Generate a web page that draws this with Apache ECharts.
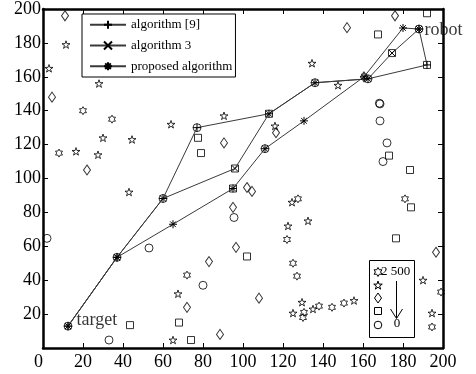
<!DOCTYPE html>
<html><head><meta charset="utf-8">
<script src="https://cdn.jsdelivr.net/npm/echarts@6/dist/echarts.min.js"></script>
<style>html,body{margin:0;padding:0;background:#fff}#c{width:476px;height:374px}</style>
</head><body><div id="c"></div>
<script>
// ---- data ----
const axisMin = 0, axisMax = 200, axisStep = 20;
const seriesNames = ['algorithm [9]', 'algorithm 3', 'proposed algorithm'];
const endLabels = ['target', 'robot'];

const hexagrams = [[20,140],[34.5,135],[8,115],[72,43],[127.5,88],[122,64],[125,50],[127,42.4],[130.5,21],[130,18],[138,24.7],[144.5,24],[150.5,26.5],[181,88],[199,33],[194.5,12.4]];
const pentagrams = [[11.5,179],[3,165],[28,156],[30,124],[44.5,123],[64,132],[16.5,116],[27.5,114],[90.5,137],[134.5,168],[116,131],[147.5,155],[43,92],[67.5,32],[65,4.7],[124.5,86],[122.5,72],[132.5,75],[129.5,27],[125,20.6],[135,23],[155.5,28],[190,40],[194.5,20.6]];
const diamonds = [[11,196],[4.5,148],[22,105],[90.5,121],[116.5,127],[152,189],[176,196],[102,94.7],[104.5,92.4],[95,83],[96.5,59.4],[83,51],[72,24],[88.5,8],[108,29.4],[196.5,56.5],[160.5,160]];
const squares = [[77.5,124],[79,115],[167.5,185],[192,197.5],[173,113.5],[183.5,105],[43.5,13.5],[68,15],[74,4.7],[102,54],[176.5,64.7],[184,83],[96,105.9],[113,138.2],[95,94.1],[174.5,174],[192,167]];
const circles = [[2,64.7],[53,59],[33,4.7],[80,37],[95.5,77],[168.5,144],[168.2,144.4],[168.5,134],[172,121],[170,110],[12.5,12.9],[37,53.5],[60,88.2],[77,130],[111,117.6],[136,156.5],[162.5,158.8],[188,188.2]];

const algorithm9 = [[12.5,12.9],[37,53.5],[60,88.2],[77,130],[113,138.2],[136,156.5],[162.5,158.8],[192,167],[188,188.2]];
const algorithm3 = [[12.5,12.9],[37,53.5],[60,88.2],[96,105.9],[113,138.2],[136,156.5],[162.5,158.8],[174.5,174],[188,188.2]];
const proposed  = [[12.5,12.9],[37,53.5],[65,73],[95,94.1],[111,117.6],[130.5,134],[160.5,160],[180,188.8],[188,188.2]];

// ---- symbols ----
const PENTA = 'path://M50 0L61.2 34.5L97.6 34.5L68.2 55.9L79.4 90.5L50 69.1L20.6 90.5L31.8 55.9L2.4 34.5L38.8 34.5Z';
const HEXA = 'path://M50 0L64.4 25L93.3 25L78.9 50L93.3 75L64.4 75L50 100L35.6 75L6.7 75L21.1 50L6.7 25L35.6 25Z';
const PLUS = 'path://M50 0L50 100M0 50L100 50';
const CROSS = 'path://M0 0L100 100M100 0L0 100';
const AST = 'path://M50 0L50 100M0 50L100 50M15 15L85 85M85 15L15 85';
const FONT = '"Liberation Serif", "Times New Roman", serif';

function obstacle(name, data, symbol, size) {
  return { name, type: 'scatter', data, symbol, symbolSize: size, symbolKeepAspect: true,
    itemStyle: { color: 'rgba(0,0,0,0)', borderColor: '#000', borderWidth: 1 }, z: 2, silent: true };
}
function path(name, data, symbol, size) {
  return { name, type: 'line', data, symbol, symbolSize: size, showSymbol: true,
    lineStyle: { color: '#3a3a3a', width: 1 },
    itemStyle: { color: '#000', borderColor: '#000', borderWidth: 1 }, z: 3, silent: true };
}

// ---- second (value) legend decoration ----
function starPts(cx, cy, r, n, inner) {
  const pts = [];
  for (let i = 0; i < 2 * n; i++) {
    const a = -Math.PI / 2 + i * Math.PI / n;
    const rr = i % 2 ? r * inner : r;
    pts.push([cx + rr * Math.cos(a), cy + rr * Math.sin(a)]);
  }
  return pts;
}
const lg = { x: 369.5, y: 260.5, w: 45, h: 77, sx: 378 };
const graphic = [
  { type: 'rect', z: 100, shape: { x: lg.x, y: lg.y, width: lg.w, height: lg.h }, style: { fill: '#fff', stroke: '#000', lineWidth: 1 } },
  { type: 'polygon', z: 101, shape: { points: starPts(lg.sx, 272, 4.5, 6, 0.577) }, style: { fill: 'none', stroke: '#000', lineWidth: 1 } },
  { type: 'polygon', z: 101, shape: { points: starPts(lg.sx, 285.5, 4.5, 5, 0.382) }, style: { fill: 'none', stroke: '#000', lineWidth: 1 } },
  { type: 'polygon', z: 101, shape: { points: [[lg.sx, 293], [lg.sx + 3.5, 298], [lg.sx, 303], [lg.sx - 3.5, 298]] }, style: { fill: 'none', stroke: '#000', lineWidth: 1 } },
  { type: 'rect', z: 101, shape: { x: lg.sx - 3.5, y: 307.5, width: 7, height: 7 }, style: { fill: 'none', stroke: '#000', lineWidth: 1 } },
  { type: 'circle', z: 101, shape: { cx: lg.sx, cy: 325, r: 3.8 }, style: { fill: 'none', stroke: '#000', lineWidth: 1 } },
  { type: 'text', z: 101, style: { text: '2 500', x: 381, y: 272, font: '13px ' + FONT, fill: '#000', verticalAlign: 'middle' } },
  { type: 'line', z: 101, shape: { x1: 396.5, y1: 281, x2: 396.5, y2: 318 }, style: { stroke: '#000', lineWidth: 1 } },
  { type: 'polyline', z: 101, shape: { points: [[390.5, 309], [396.5, 318.5], [402.5, 309]] }, style: { stroke: '#000', lineWidth: 1, fill: 'none' } },
  { type: 'text', z: 101, style: { text: '0', x: 397, y: 324, font: '13px ' + FONT, fill: '#000', align: 'center', verticalAlign: 'middle' } }
];

const labelStyle = { color: '#000', fontFamily: FONT, fontSize: 18 };
const axisBase = { type: 'value', min: axisMin, max: axisMax, interval: axisStep,
  axisLine: { show: true, onZero: false, lineStyle: { color: '#000', width: 2.5 } },
  axisTick: { show: true, inside: true, length: 5, lineStyle: { color: '#000', width: 1 } },
  splitLine: { show: false } };

const option = {
  animation: false,
  backgroundColor: '#fff',
  grid: { left: 43, right: 33, top: 8, bottom: 26 },
  xAxis: [
    Object.assign({}, axisBase, { position: 'bottom', axisLabel: Object.assign({ margin: 5, alignMinLabel: 'right' }, labelStyle) }),
    Object.assign({}, axisBase, { position: 'top', axisLabel: { show: false } })
  ],
  yAxis: [
    Object.assign({}, axisBase, { position: 'left', axisLabel: Object.assign({ margin: 2, showMinLabel: false }, labelStyle) }),
    Object.assign({}, axisBase, { position: 'right', axisLabel: { show: false } })
  ],
  legend: {
    data: seriesNames, orient: 'vertical', left: 82, top: 14,
    backgroundColor: '#fff', borderColor: '#000', borderWidth: 1,
    padding: [4.3, 3, 4.3, 7], itemWidth: 36, itemHeight: 10, itemGap: 7.7,
    textStyle: { color: '#000', fontFamily: FONT, fontSize: 13 }, selectedMode: false, z: 20
  },
  graphic,
  series: [
    obstacle('hexagram', hexagrams, HEXA, 8),
    obstacle('pentagram', pentagrams, PENTA, 8),
    obstacle('diamond', diamonds, 'diamond', [7, 10]),
    obstacle('square', squares, 'rect', 7),
    obstacle('circle', circles, 'circle', 8),
    path(seriesNames[0], algorithm9, PLUS, 8),
    path(seriesNames[1], algorithm3, CROSS, 6),
    path(seriesNames[2], proposed, AST, 8),
    { name: 'ends', type: 'scatter', symbolSize: 1, itemStyle: { color: 'rgba(0,0,0,0)' }, silent: true, z: 5,
      data: [
        { value: proposed[0], label: { show: true, formatter: endLabels[0], position: 'right', distance: 8, offset: [0, -6], color: '#000', fontFamily: FONT, fontSize: 18 } },
        { value: proposed[proposed.length - 1], label: { show: true, formatter: endLabels[1], position: 'right', distance: 5, offset: [0, 1], color: '#000', fontFamily: FONT, fontSize: 18 } }
      ] }
  ]
};
const chart = echarts.init(document.getElementById('c'), null, { renderer: 'canvas' });
chart.setOption(option);
</script></body></html>
